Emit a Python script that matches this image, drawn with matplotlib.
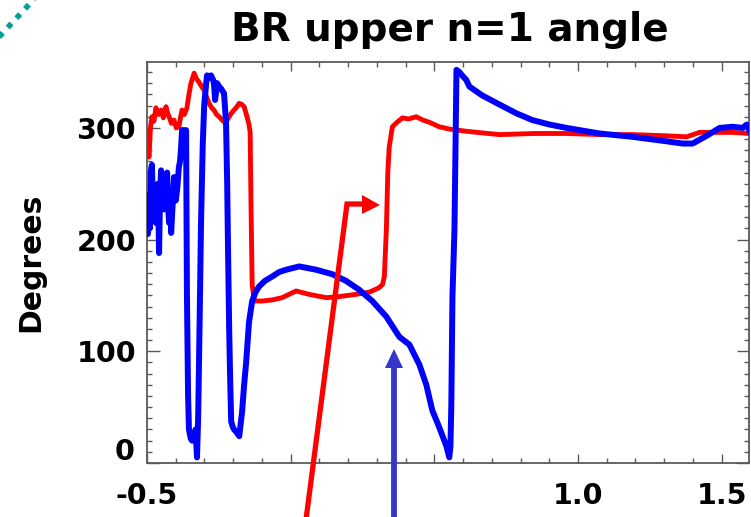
import matplotlib
matplotlib.use("Agg")
import matplotlib.pyplot as plt
from matplotlib.lines import Line2D
from matplotlib.patches import Polygon
from matplotlib.ticker import MultipleLocator

# ---- data ----
red_x = [-0.500, -0.497, -0.493, -0.488, -0.483, -0.476, -0.469, -0.460, -0.451, -0.443,
         -0.434, -0.428, -0.423, -0.415, -0.406, -0.398, -0.389, -0.383, -0.378, -0.370,
         -0.361, -0.354, -0.347, -0.336, -0.328, -0.319, -0.310, -0.301, -0.292, -0.284,
         -0.275, -0.267, -0.258, -0.249, -0.235, -0.221, -0.212, -0.204, -0.190, -0.179,
         -0.170, -0.162, -0.152, -0.145, -0.141, -0.138, -0.134, -0.127, -0.100, -0.064,
         -0.030, 0.019, 0.064, 0.124, 0.169, 0.228, 0.274, 0.300, 0.308, 0.320, 0.326,
         0.333, 0.338, 0.343, 0.354, 0.370, 0.389, 0.410, 0.437, 0.460, 0.483, 0.517,
         0.552, 0.611, 0.726, 0.850, 0.960, 1.075, 1.190, 1.300, 1.378, 1.423, 1.480,
         1.538, 1.597]
red_y = [298, 285, 274, 300, 310, 306, 318, 312, 316, 309,
         319, 313, 310, 304, 307, 300, 301, 310, 316, 312,
         318, 330, 340, 349, 344, 341, 337, 334, 327, 322,
         318, 316, 312, 310, 306, 307, 311, 314, 318, 322,
         321, 319, 310, 303, 296, 230, 160, 145, 145, 146,
         148, 154, 151, 148, 149, 151, 153, 156, 157, 160, 167,
         209, 260, 283, 301, 305, 309, 308, 310, 307, 305, 301,
         299, 297, 294, 295, 295, 294, 294, 293, 292, 296, 296,
         296, 295]

blue_x = [-0.500, -0.497, -0.493, -0.490, -0.486, -0.483, -0.479, -0.476, -0.472, -0.469,
          -0.465, -0.462, -0.458, -0.455, -0.451, -0.446, -0.441, -0.436, -0.430, -0.427,
          -0.423, -0.419, -0.416, -0.411, -0.406, -0.400, -0.395, -0.392, -0.389, -0.385,
          -0.382, -0.378, -0.371, -0.364, -0.361, -0.357, -0.354, -0.348, -0.343, -0.339,
          -0.336, -0.331, -0.326, -0.322, -0.319, -0.315, -0.312, -0.306, -0.301, -0.294,
          -0.291, -0.284, -0.277, -0.270, -0.267, -0.263, -0.256, -0.249, -0.242, -0.237,
          -0.232, -0.225, -0.221, -0.218, -0.214, -0.211, -0.207, -0.201, -0.197, -0.190,
          -0.184, -0.179, -0.174, -0.169, -0.162, -0.155, -0.145, -0.134, -0.122, -0.110,
          -0.090, -0.064, -0.040, -0.016, 0.030, 0.089, 0.145, 0.193, 0.239, 0.284,
          0.333, 0.378, 0.413, 0.448, 0.472, 0.493, 0.517, 0.542, 0.552, 0.556,
          0.559, 0.563, 0.570, 0.577, 0.587, 0.600, 0.611, 0.622, 0.667, 0.726,
          0.786, 0.841, 0.901, 0.960, 1.075, 1.190, 1.308, 1.364, 1.399, 1.420,
          1.448, 1.493, 1.538, 1.573, 1.587, 1.600]
blue_y = [224, 205, 240, 210, 262, 267, 230, 220, 248, 215,
          240, 250, 188, 235, 262, 240, 227, 250, 260, 232,
          215, 240, 206, 230, 256, 235, 245, 255, 265, 270,
          280, 298, 298, 298, 150, 60, 30, 22, 20, 26,
          24, 30, 5, 40, 90, 160, 215, 285, 320, 340,
          347, 345, 347, 343, 340, 325, 340, 337, 335, 333,
          331, 305, 251, 191, 120, 80, 37, 32, 30, 28,
          26, 24, 35, 46, 70, 90, 126, 145, 153, 158,
          163, 167, 171, 173, 176, 173, 169, 163, 155, 145,
          131, 113, 106, 88, 70, 47, 32, 15, 5, 15,
          51, 149, 209, 352, 350, 346, 343, 337, 329, 321,
          313, 307, 303, 300, 295, 292, 288, 286, 286, 289,
          293, 300, 301, 300, 303, 296]

x_ticks = [-0.5, 0.0, 0.5, 1.0, 1.5]
x_ticklabels = ['-0.5', '', '', '1.0', '1.5']
y_ticks = [0, 100, 200, 300]
y_ticklabels = ['', '100', '200', '300']

W, H = 751, 517
plt.rcParams['font.family'] = ['DejaVu Sans']
plt.rcParams['font.weight'] = 'bold'

fig = plt.figure(figsize=(W / 100, H / 100), dpi=100)
ax = fig.add_axes([147 / W, 1 - 463 / H, (749 - 147) / W, (463 - 62) / H])

ax.plot(red_x, red_y, color='#ff0000', lw=3.5, solid_joinstyle='round', zorder=2)
ax.plot(blue_x, blue_y, color='#0000ff', lw=4.3, solid_joinstyle='round', zorder=3)

ax.set_xlim(-0.5, 1.595)
ax.set_ylim(0, 359)
ax.set_xticks(x_ticks)
ax.set_xticklabels(x_ticklabels)
ax.set_yticks(y_ticks)
ax.set_yticklabels(y_ticklabels)
ax.xaxis.set_minor_locator(MultipleLocator(0.1))
ax.yaxis.set_minor_locator(MultipleLocator(10))

frame_c = '#5a5a5a'
for s in ax.spines.values():
    s.set_color(frame_c)
    s.set_linewidth(1.3)
ax.tick_params(axis='both', which='both', direction='in', top=True, right=True,
               color=frame_c, width=1.0)
ax.tick_params(axis='x', which='major', length=6.5, labelsize=20.5, pad=14)
ax.tick_params(axis='x', which='minor', length=3.5)
ax.tick_params(axis='y', which='major', length=9, labelsize=20.5, pad=8)
ax.tick_params(axis='y', which='minor', length=3.8)
for lab in ax.get_xticklabels() + ax.get_yticklabels():
    lab.set_fontweight('bold')

# "0" label sits slightly above the baseline in the reference
ax.annotate('0', xy=(0, 0), xycoords='axes fraction', xytext=(-12, 11),
            textcoords='offset pixels', ha='right', va='center',
            fontsize=20.5, fontweight='bold')

fig.text(31 / W, 1 - 262 / H, 'Degrees', rotation=90, ha='center', va='center',
         fontsize=21.5, fontweight='bold')

fig.text(450 / W, 1 - 30 / H, 'BR upper n=1 angle', ha='center', va='center',
         fontsize=28, fontweight='bold')


def P(x, y):
    return (x / W, 1 - y / H)


# red annotation arrow
rx, ry = zip(*[P(304, 535), P(347, 204), P(364, 204)])
fig.add_artist(Line2D(rx, ry, transform=fig.transFigure, color='#ff0000', lw=3.8,
                      solid_joinstyle='miter', solid_capstyle='butt', zorder=10))
fig.add_artist(Polygon([P(362, 195), P(380, 205), P(362, 214)], closed=True,
                       transform=fig.transFigure, color='#ff0000', lw=0, zorder=10))

# blue annotation arrow
bx, by = zip(*[P(394, 535), P(394, 366)])
fig.add_artist(Line2D(bx, by, transform=fig.transFigure, color='#3535cc', lw=4.2,
                      solid_capstyle='butt', zorder=10))
fig.add_artist(Polygon([P(385, 368), P(394, 349), P(403, 368)], closed=True,
                       transform=fig.transFigure, color='#3535cc', lw=0, zorder=10))

# teal dotted corner decoration
tx, ty = zip(*[P(-2, 38), P(36, -3)])
fig.add_artist(Line2D(tx, ty, transform=fig.transFigure, color='#00a09a', lw=4.0,
                      linestyle=(0, (1.0, 1.3)), dash_capstyle='butt', zorder=10))

fig.savefig('out.png', dpi=100)
